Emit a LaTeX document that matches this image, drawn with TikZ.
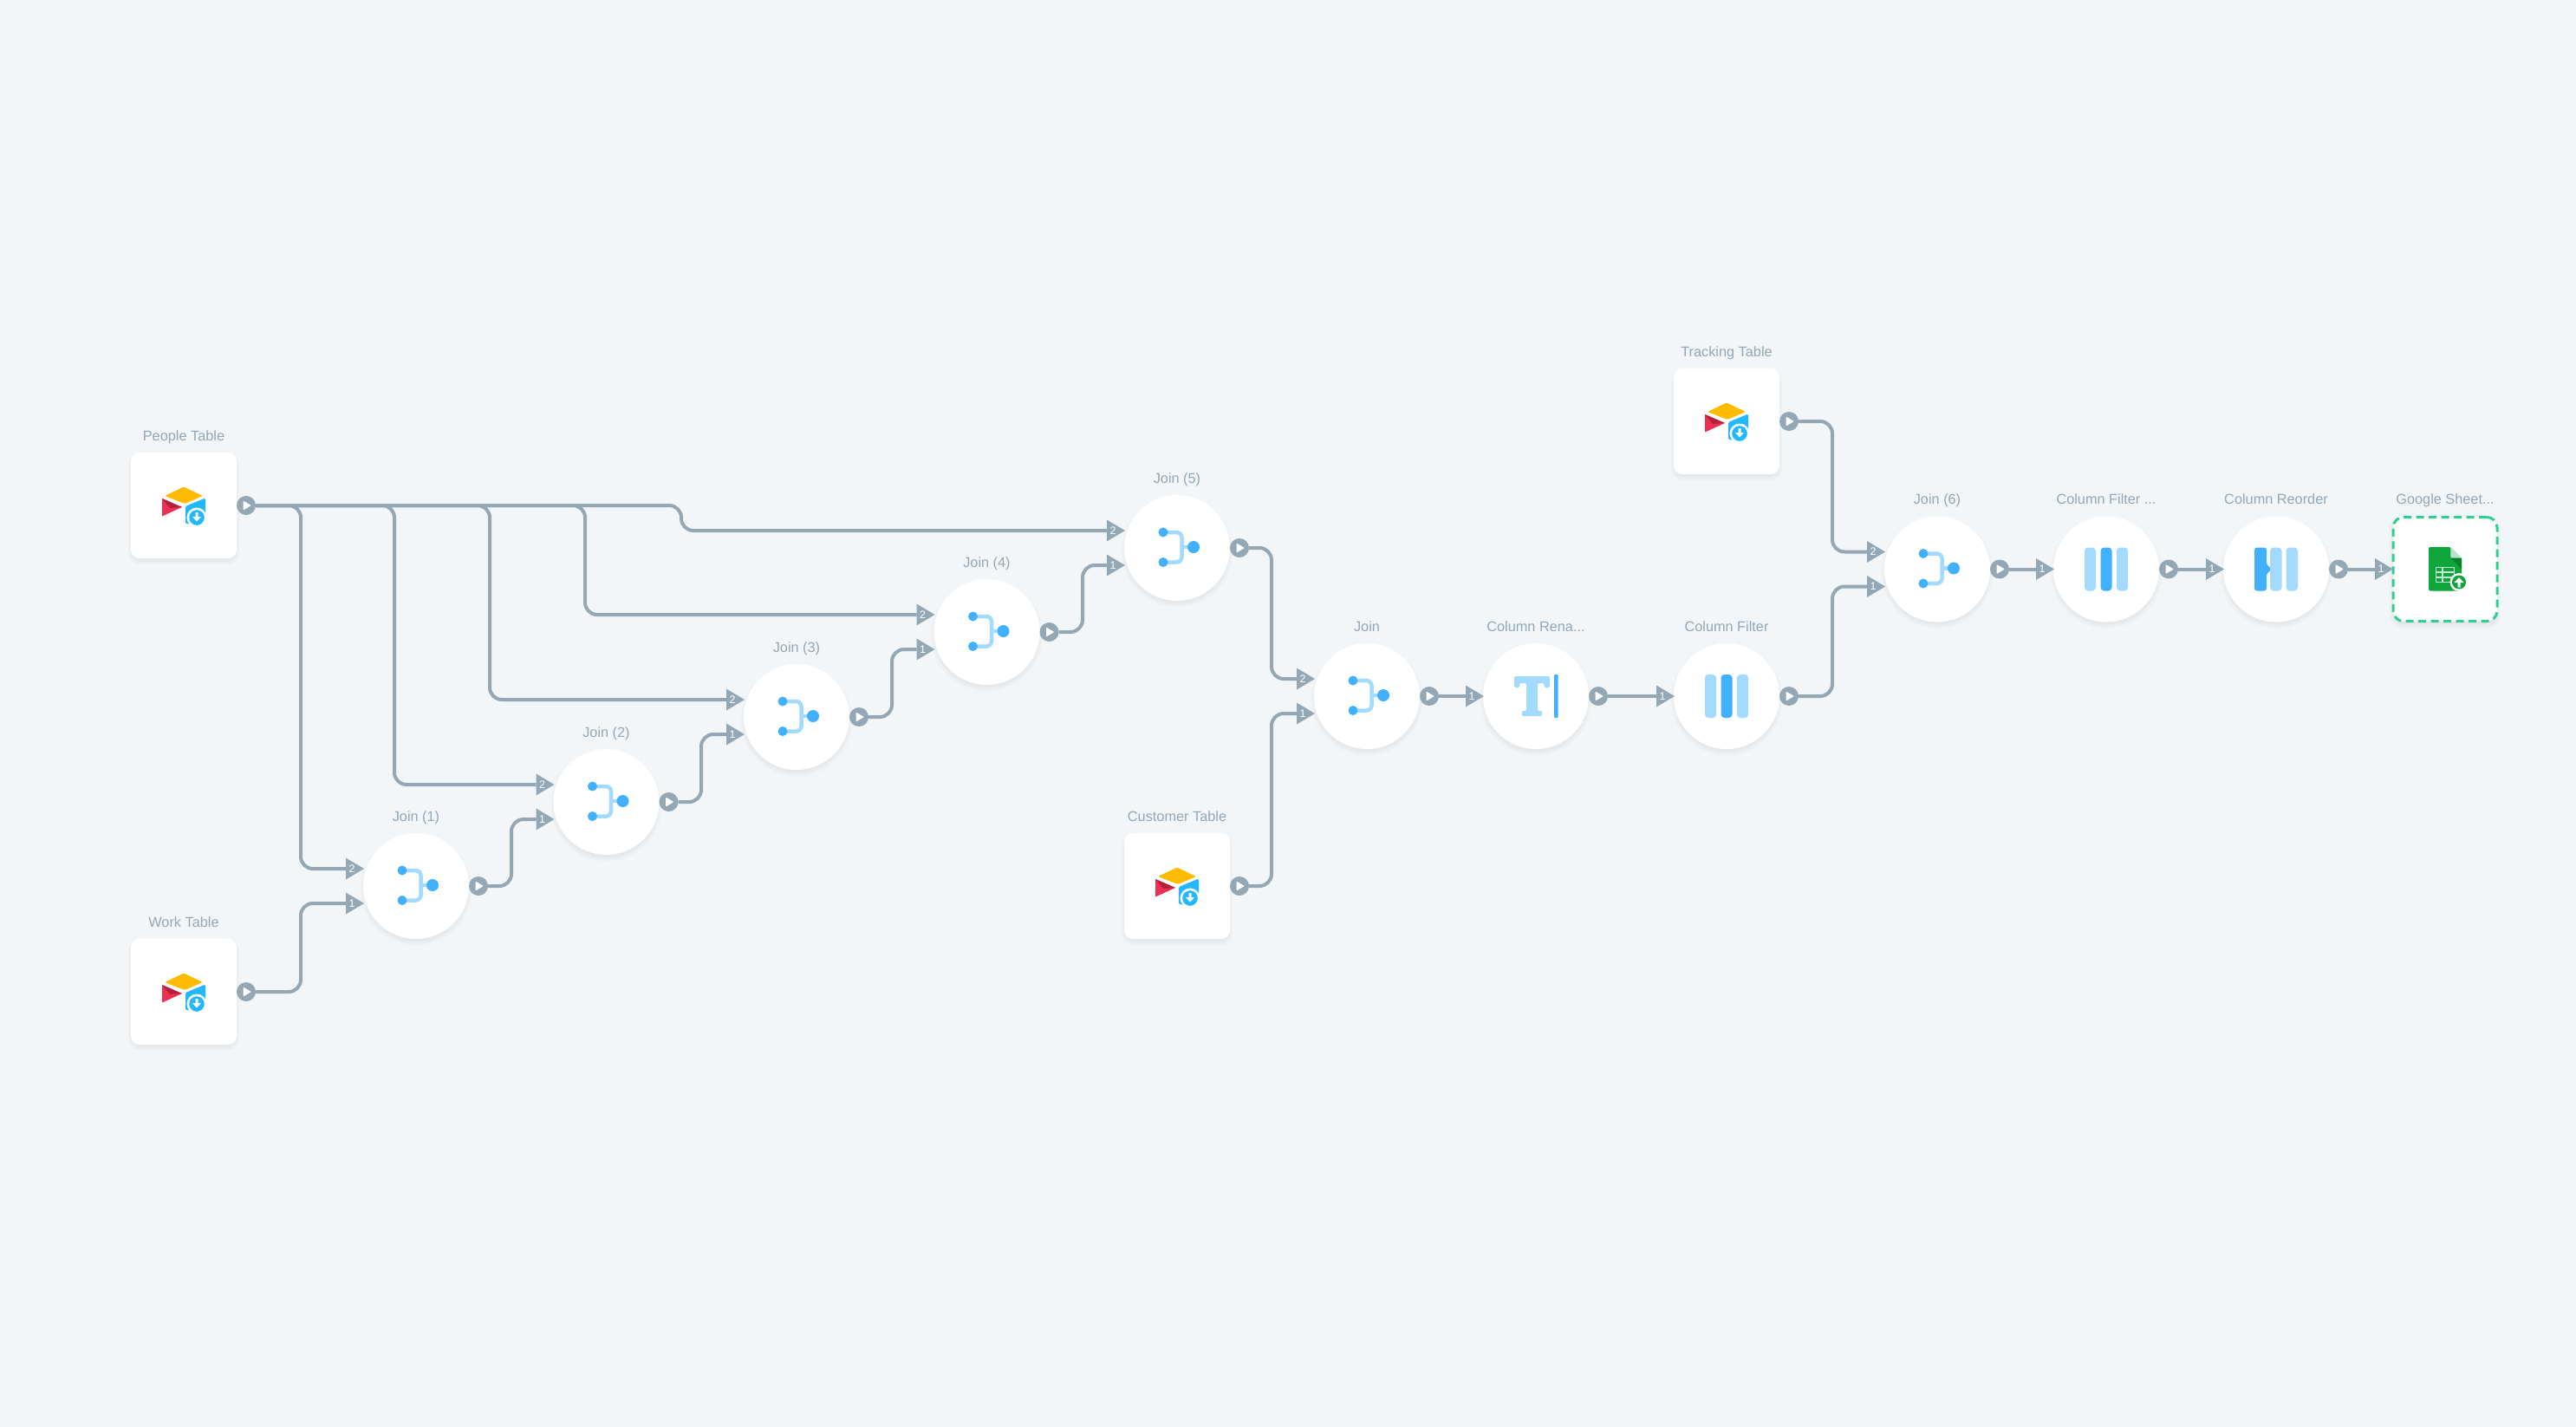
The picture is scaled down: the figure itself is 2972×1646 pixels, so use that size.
\documentclass[tikz,border=0pt]{standalone}
\usepackage{fontspec}
\setmainfont{Liberation Sans}
\usetikzlibrary{calc}
\definecolor{bgc}{HTML}{F3F6F9}
\definecolor{wirec}{HTML}{94A7B4}
\definecolor{lightb}{HTML}{A3DAFF}
\definecolor{darkb}{HTML}{40B0FF}
\definecolor{aty}{HTML}{FFBB00}
\definecolor{atb}{HTML}{22B8FF}
\definecolor{atr}{HTML}{EE2F52}
\definecolor{atd}{HTML}{B5203C}
\definecolor{gsg}{HTML}{0EA53B}
\definecolor{gsl}{HTML}{B9E2C6}
\definecolor{gsd}{HTML}{0A7F2E}
\definecolor{gsb}{HTML}{2ECF8F}
\pgfdeclarelayer{wires}
\pgfsetlayers{wires,main}
\tikzset{
  x=1pt,y=-1pt,
  wire/.style={draw=wirec,line width=4pt,rounded corners=14pt},
  circnode/.style={circle,fill=white,minimum size=122pt,inner sep=0pt},
  boxnode/.style={rectangle,rounded corners=10pt,fill=white,minimum size=122pt,inner sep=0pt},
  lbl/.style={font=\fontsize{16.3pt}{18pt}\selectfont,text=wirec,anchor=base,inner sep=0pt},
  numlbl/.style={font=\fontsize{12.5pt}{14pt}\selectfont,text=white,inner sep=0pt},
  outport/.style={circle,fill=wirec,minimum size=22pt,inner sep=0pt},
  inarrow/.style={fill=wirec},
  softlayer/.style={fill=black,opacity=0.009},
  lightbar/.style={fill=lightb,rounded corners=4pt},
  darkbar/.style={fill=darkb,rounded corners=4pt},
  airtable/.pic={
    \fill[aty,rounded corners=1.5pt] (-22,-11) -- (0,-21.5) -- (22,-11) -- (1,-2) -- cycle;
    \fill[atr,rounded corners=0.5pt] (-25,-8) -- (-2,2) -- (-25,12.5) -- cycle;
    \fill[atd] (-25,-8) -- (-2,2) -- (-16,3) -- cycle;
    \fill[atb,rounded corners=1.5pt] (2,1) -- (25,-8.5) -- (25,19) -- (14,22) -- (2,21) -- cycle;
    \fill[white] (15,14) circle[radius=11.5pt];
    \fill[atb] (15,14) circle[radius=8.8pt];
    \fill[white] (13.5,8) -- (16.5,8) -- (16.5,13) -- (20,13) -- (15,18.5) -- (10,13) -- (13.5,13) -- cycle;
  },
  joinicon/.pic={
    \draw[lightb,line width=4.5pt,rounded corners=6pt] (-16,-18) -- (5.5,-18) -- (5.5,16.5) -- (-16,16.5);
    \draw[lightb,line width=4.5pt] (5.5,-1) -- (19,-1);
    \fill[darkb] (-16,-18) circle[radius=5.5pt];
    \fill[darkb] (-16,16.5) circle[radius=5.5pt];
    \fill[darkb] (19,-1) circle[radius=7pt];
  },
  filtericon/.pic={
    \fill[lightbar] (-25,-25) rectangle (-12,25);
    \fill[darkbar] (-6.5,-25) rectangle (6.5,25);
    \fill[lightbar] (12,-25) rectangle (25,25);
  },
  reordericon/.pic={
    \fill[darkb,rounded corners=3pt] (-25,-25) -- (-11,-25) -- (-11,-5) -- (-4.5,0) -- (-11,5) -- (-11,25) -- (-25,25) -- cycle;
    \fill[lightbar] (-7,-25) rectangle (6.5,25);
    \fill[lightbar] (11.5,-25) rectangle (25,25);
  },
  renameicon/.pic={
    \fill[lightb,rounded corners=1.5pt] (-25,-23) -- (16,-23) -- (16,-10) -- (9.5,-10) -- (9.5,-15) -- (2,-15) -- (2,17) -- (7,17) -- (7,23) -- (-16,23) -- (-16,17) -- (-11,17) -- (-11,-15) -- (-19,-15) -- (-19,-10) -- (-25,-10) -- cycle;
    \fill[darkb,rounded corners=1pt] (21,-25) rectangle (25.5,25);
  },
  sheeticon/.pic={
    \fill[gsg,rounded corners=2pt] (-19,-25.5) -- (6.5,-25.5) -- (6.5,-13) -- (19,-13) -- (19,25) -- (-19,25) -- cycle;
    \fill[gsl] (6.5,-25.5) -- (19,-13) -- (6.5,-13) -- cycle;
    \fill[gsd] (6.5,-13) -- (19,-13) -- (19,0) -- cycle;
    \draw[white!75!gsg,line width=1.6pt] (-10.5,-2) rectangle (10.5,15);
    \draw[white!75!gsg,line width=1.6pt] (-10.5,3.5) -- (10.5,3.5) (-10.5,9.5) -- (8,9.5) (-3,-2) -- (-3,15);
    \fill[white] (16,15) circle[radius=10.5pt];
    \fill[gsg] (16,15) circle[radius=8pt];
    \fill[white] (14.5,21) -- (17.5,21) -- (17.5,15.5) -- (21.5,15.5) -- (16,9.5) -- (10.5,15.5) -- (14.5,15.5) -- cycle;
  },
  playicon/.pic={
    \fill[white,rounded corners=1pt] (-3.5,-5.5) -- (6,0) -- (-3.5,5.5) -- cycle;
  }
}
\newcommand{\shadowc}[1]{%
  \foreach \e in {0,1,...,7}{\fill[softlayer] ($(#1)+(0,4)$) circle[radius={58pt+\e*1pt}];}}
\newcommand{\shadowb}[1]{%
  \foreach \e in {0,1,...,7}{\fill[softlayer,rounded corners={8pt+\e*1pt}] ($(#1)+(-58,-54)+(-\e,-\e)$) rectangle ($(#1)+(58,62)+(\e,\e)$);}}
% name, x, y, label, icon
\newcommand{\cnode}[5]{%
  \coordinate (#1c) at (#2,#3);
  \shadowc{#1c}
  \node[circnode] (#1) at (#1c) {};
  \node[lbl] (#1l) at ($(#1c)+(0,-75)$) {#4};
  \pic at (#1c) {#5};
  \node[outport] (#1o) at ($(#1c)+(72,0)$) {};
  \pic at (#1o) {playicon};
}
\newcommand{\bnode}[4]{%
  \coordinate (#1c) at (#2,#3);
  \shadowb{#1c}
  \node[boxnode] (#1) at (#1c) {};
  \node[lbl] (#1l) at ($(#1c)+(0,-75)$) {#4};
  \pic at (#1c) {airtable};
  \node[outport] (#1o) at ($(#1c)+(72,0)$) {};
  \pic at (#1o) {playicon};
}
% name, target, dy, number
\newcommand{\inport}[4]{%
  \coordinate (#1) at ($(#2c)+(-81,#3)$);
  \fill[inarrow] ($(#1)+(0,-12.5)$) -- ($(#1)+(21,0)$) -- ($(#1)+(0,12.5)$) -- cycle;
  \node[numlbl] (#1n) at ($(#1)+(7,0)$) {#4};
}
% from, bus x, to
\newcommand{\route}[3]{%
  \coordinate (bus) at (#2,0);
  \draw[wire] (#1) -- (bus|-#1) -- (bus|-#3) -- (#3);
}
\begin{document}
\begin{tikzpicture}
\useasboundingbox (0,0) rectangle (2972,1646);
\begin{pgfonlayer}{wires}
\fill[bgc] (0,0) rectangle (2972,1646);
\end{pgfonlayer}
\bnode{people}{212}{583}{People Table}
\bnode{work}{212}{1144}{Work Table}
\bnode{customer}{1358}{1022}{Customer Table}
\bnode{tracking}{1992}{486}{Tracking Table}
\cnode{ja}{480}{1022}{Join (1)}{joinicon}
\cnode{jb}{699.5}{925}{Join (2)}{joinicon}
\cnode{jc}{919}{827}{Join (3)}{joinicon}
\cnode{jd}{1138.5}{729}{Join (4)}{joinicon}
\cnode{je}{1358}{632}{Join (5)}{joinicon}
\cnode{jj}{1577}{803}{Join}{joinicon}
\cnode{ren}{1772}{803}{Column Rena...}{renameicon}
\cnode{flt}{1992}{803}{Column Filter}{filtericon}
\cnode{jf}{2235}{656.5}{Join (6)}{joinicon}
\cnode{fltb}{2430}{656.5}{Column Filter ...}{filtericon}
\cnode{reo}{2626}{656.5}{Column Reorder}{reordericon}
% Google Sheets target
\coordinate (gsc) at (2821,656.5);
\shadowb{gsc}
\node[boxnode,minimum size=120pt,draw=gsb,line width=3pt,dash pattern=on 9pt off 5.5pt,rounded corners=12pt] (gs) at (gsc) {};
\node[lbl] (gsl) at ($(gsc)+(0,-75)$) {Google Sheet...};
\pic at (gsc) {sheeticon};
% input arrows
\inport{jai}{ja}{-20}{2}\inport{jaii}{ja}{20}{1}
\inport{jbi}{jb}{-20}{2}\inport{jbii}{jb}{20}{1}
\inport{jci}{jc}{-20}{2}\inport{jcii}{jc}{20}{1}
\inport{jdi}{jd}{-20}{2}\inport{jdii}{jd}{20}{1}
\inport{jei}{je}{-20}{2}\inport{jeii}{je}{20}{1}
\inport{jji}{jj}{-20}{2}\inport{jjii}{jj}{20}{1}
\inport{jfi}{jf}{-20}{2}\inport{jfii}{jf}{20}{1}
\inport{reni}{ren}{0}{1}
\inport{flti}{flt}{0}{1}
\inport{fltbi}{fltb}{0}{1}
\inport{reoi}{reo}{0}{1}
\inport{gsi}{gs}{0}{1}
\begin{pgfonlayer}{wires}
\route{peopleo}{347}{jai}
\route{peopleo}{455}{jbi}
\route{peopleo}{565}{jci}
\route{peopleo}{675}{jdi}
\route{peopleo}{786}{jei}
\route{worko}{347}{jaii}
\route{jao}{590}{jbii}
\route{jbo}{809}{jcii}
\route{jco}{1029}{jdii}
\route{jdo}{1249}{jeii}
\route{jeo}{1467}{jji}
\route{customero}{1467}{jjii}
\route{trackingo}{2114}{jfi}
\route{flto}{2114}{jfii}
\draw[wire] (jjo) -- (reni);
\draw[wire] (reno) -- (flti);
\draw[wire] (jfo) -- (fltbi);
\draw[wire] (fltbo) -- (reoi);
\draw[wire] (reoo) -- (gsi);
\end{pgfonlayer}
\end{tikzpicture}
\end{document}
